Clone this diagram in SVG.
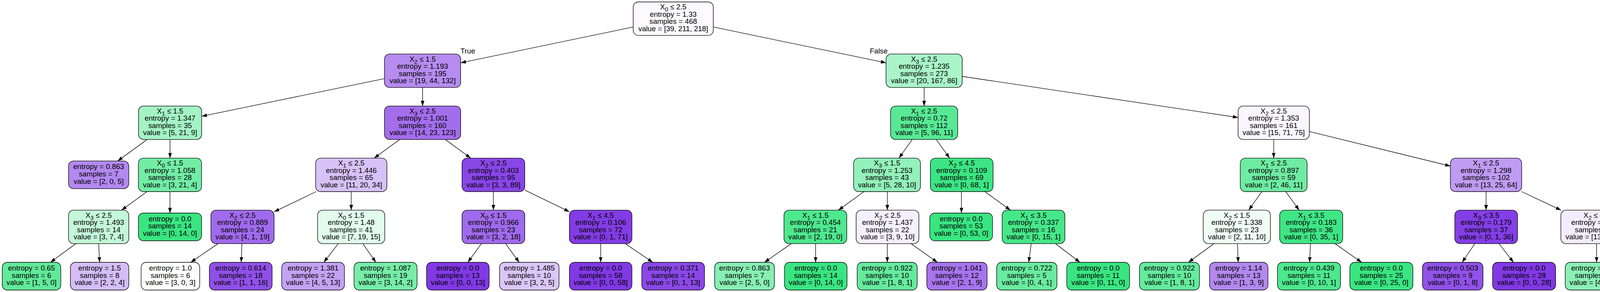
<svg xmlns="http://www.w3.org/2000/svg" width="4369" height="748" viewBox="0 0 4369 748">
<style>
.node rect{stroke:#000;stroke-width:1.33}
text{font-family:"Liberation Sans",Arial,Helvetica,sans-serif;font-size:18.67px;text-anchor:middle;fill:#000}
.s{font-size:15px}
#edges line{stroke:#000;stroke-width:1.33;marker-end:url(#arr)}
</style>
<defs>
<marker id="arr" viewBox="0 0 10 7" refX="10" refY="3.5" markerWidth="13.33" markerHeight="9.33" markerUnits="userSpaceOnUse" orient="auto"><path d="M0,0 L10,3.5 L0,7 z" fill="#000"/></marker>
</defs>
<rect width="4369" height="748" fill="#fff"/>
<g id="edges">
<line x1="1621" y1="69.15" x2="1179.3" y2="160.94"/>
<line x1="1826" y1="69.13" x2="2268.3" y2="160.96"/>
<line x1="984.3" y1="201.31" x2="516.25" y2="297.87"/>
<line x1="1081.8" y1="224.05" x2="1081.8" y2="271.7"/>
<line x1="2365.8" y1="224.05" x2="2365.8" y2="271.7"/>
<line x1="2463.3" y1="195.73" x2="3169.5" y2="300.97"/>
<line x1="376.64" y1="357.4" x2="301.23" y2="412.4"/>
<line x1="435.3" y1="357.4" x2="435.3" y2="405.05"/>
<line x1="1023.16" y1="357.4" x2="957.94" y2="405.05"/>
<line x1="1140.06" y1="357.4" x2="1204.84" y2="405.05"/>
<line x1="2335.29" y1="357.4" x2="2301.36" y2="405.05"/>
<line x1="2396.71" y1="357.4" x2="2431.09" y2="405.05"/>
<line x1="3260.65" y1="357.4" x2="3260.65" y2="405.05"/>
<line x1="3351.8" y1="336.91" x2="3713" y2="425.52"/>
<line x1="376.47" y1="490.75" x2="311.23" y2="538.4"/>
<line x1="435.15" y1="490.75" x2="435.15" y2="545.75"/>
<line x1="809.81" y1="490.75" x2="701.65" y2="542.54"/>
<line x1="899.15" y1="490.75" x2="899.15" y2="538.4"/>
<line x1="1263.1" y1="490.75" x2="1263.1" y2="538.4"/>
<line x1="1343.4" y1="486.89" x2="1457.75" y2="542.41"/>
<line x1="2211.88" y1="490.75" x2="2146.32" y2="538.4"/>
<line x1="2271.6" y1="490.75" x2="2271.6" y2="538.4"/>
<line x1="2461.3" y1="490.75" x2="2461.3" y2="545.75"/>
<line x1="2521.06" y1="490.75" x2="2586.74" y2="538.4"/>
<line x1="3230.35" y1="490.75" x2="3196.65" y2="538.4"/>
<line x1="3291.51" y1="490.75" x2="3325.84" y2="538.4"/>
<line x1="3804.4" y1="490.75" x2="3804.4" y2="538.4"/>
<line x1="3895.22" y1="490.75" x2="3996.38" y2="538.4"/>
<line x1="194.21" y1="624.1" x2="128.99" y2="672"/>
<line x1="252.55" y1="624.1" x2="255" y2="672"/>
<line x1="558.2" y1="624.1" x2="488.22" y2="672"/>
<line x1="619.27" y1="624.1" x2="617.57" y2="672"/>
<line x1="865.91" y1="624.1" x2="828.92" y2="672"/>
<line x1="928.87" y1="624.1" x2="962.26" y2="672"/>
<line x1="1232.21" y1="624.1" x2="1197.69" y2="672"/>
<line x1="1294.29" y1="624.1" x2="1329.16" y2="672"/>
<line x1="1537.75" y1="624.1" x2="1537.75" y2="672"/>
<line x1="1600.73" y1="624.1" x2="1671.13" y2="672"/>
<line x1="2025.8" y1="624.1" x2="1956.99" y2="672"/>
<line x1="2087.9" y1="624.1" x2="2087.9" y2="672"/>
<line x1="2271.6" y1="624.1" x2="2271.4" y2="672"/>
<line x1="2332.33" y1="624.1" x2="2399.77" y2="672"/>
<line x1="2639.98" y1="624.1" x2="2633.47" y2="672"/>
<line x1="2701.99" y1="624.1" x2="2764.8" y2="672"/>
<line x1="3107.78" y1="624.1" x2="3042.32" y2="672"/>
<line x1="3168.01" y1="624.1" x2="3169.87" y2="672"/>
<line x1="3354.77" y1="624.1" x2="3352.6" y2="672"/>
<line x1="3417.66" y1="624.1" x2="3485.8" y2="672"/>
<line x1="3775.55" y1="624.1" x2="3743.07" y2="672"/>
<line x1="3837.57" y1="624.1" x2="3874.43" y2="672"/>
<line x1="4087.3" y1="624.1" x2="4087.3" y2="672"/>
<line x1="4151.97" y1="624.1" x2="4224.21" y2="672"/>
<text x="1197.5" y="136.7">True</text>
<text x="2249.5" y="136.7">False</text>
</g>
<g id="node0" class="node"><rect x="1621" y="5" width="205" height="85.7" rx="13" fill="#fcfafe"/><text x="1723.5" y="24.25">X<tspan class="s" dy="5">0</tspan><tspan dy="-5"> ≤ 2.5</tspan></text><text x="1723.5" y="42.75">entropy = 1.33</text><text x="1723.5" y="61.25">samples = 468</text><text x="1723.5" y="79.75">value = [39, 211, 218]</text></g>
<g id="node1" class="node"><rect x="984.3" y="138.35" width="195" height="85.7" rx="13" fill="#b68cf0"/><text x="1081.8" y="157.6">X<tspan class="s" dy="5">2</tspan><tspan dy="-5"> ≤ 1.5</tspan></text><text x="1081.8" y="176.1">entropy = 1.193</text><text x="1081.8" y="194.6">samples = 195</text><text x="1081.8" y="213.1">value = [19, 44, 132]</text></g>
<g id="node2" class="node"><rect x="2268.3" y="138.35" width="195" height="85.7" rx="13" fill="#a9f4c8"/><text x="2365.8" y="157.6">X<tspan class="s" dy="5">3</tspan><tspan dy="-5"> ≤ 2.5</tspan></text><text x="2365.8" y="176.1">entropy = 1.235</text><text x="2365.8" y="194.6">samples = 273</text><text x="2365.8" y="213.1">value = [20, 167, 86]</text></g>
<g id="node3" class="node"><rect x="354.55" y="271.7" width="161.7" height="85.7" rx="13" fill="#a4f3c5"/><text x="435.4" y="290.95">X<tspan class="s" dy="5">1</tspan><tspan dy="-5"> ≤ 1.5</tspan></text><text x="435.4" y="309.45">entropy = 1.347</text><text x="435.4" y="327.95">samples = 35</text><text x="435.4" y="346.45">value = [5, 21, 9]</text></g>
<g id="node4" class="node"><rect x="984.3" y="271.7" width="195" height="85.7" rx="13" fill="#a36eec"/><text x="1081.8" y="290.95">X<tspan class="s" dy="5">3</tspan><tspan dy="-5"> ≤ 2.5</tspan></text><text x="1081.8" y="309.45">entropy = 1.001</text><text x="1081.8" y="327.95">samples = 160</text><text x="1081.8" y="346.45">value = [14, 23, 123]</text></g>
<g id="node5" class="node"><rect x="2279.95" y="271.7" width="171.7" height="85.7" rx="13" fill="#58e995"/><text x="2365.8" y="290.95">X<tspan class="s" dy="5">1</tspan><tspan dy="-5"> ≤ 2.5</tspan></text><text x="2365.8" y="309.45">entropy = 0.72</text><text x="2365.8" y="327.95">samples = 112</text><text x="2365.8" y="346.45">value = [5, 96, 11]</text></g>
<g id="node6" class="node"><rect x="3169.5" y="271.7" width="182.3" height="85.7" rx="13" fill="#f9f6fe"/><text x="3260.65" y="290.95">X<tspan class="s" dy="5">2</tspan><tspan dy="-5"> ≤ 2.5</tspan></text><text x="3260.65" y="309.45">entropy = 1.353</text><text x="3260.65" y="327.95">samples = 161</text><text x="3260.65" y="346.45">value = [15, 71, 75]</text></g>
<g id="node7" class="node"><rect x="175.4" y="412.4" width="154.3" height="71" rx="13" fill="#b388ef"/><text x="252.55" y="433.4">entropy = 0.863</text><text x="252.55" y="452">samples = 7</text><text x="252.55" y="470.7">value = [2, 0, 5]</text></g>
<g id="node8" class="node"><rect x="354.3" y="405.05" width="161.7" height="85.7" rx="13" fill="#73eda6"/><text x="435.15" y="424.3">X<tspan class="s" dy="5">0</tspan><tspan dy="-5"> ≤ 1.5</tspan></text><text x="435.15" y="442.8">entropy = 1.058</text><text x="435.15" y="461.3">samples = 28</text><text x="435.15" y="479.8">value = [3, 21, 4]</text></g>
<g id="node9" class="node"><rect x="808.1" y="405.05" width="182.4" height="85.7" rx="13" fill="#d8c1f7"/><text x="899.3" y="424.3">X<tspan class="s" dy="5">1</tspan><tspan dy="-5"> ≤ 2.5</tspan></text><text x="899.3" y="442.8">entropy = 1.446</text><text x="899.3" y="461.3">samples = 65</text><text x="899.3" y="479.8">value = [11, 20, 34]</text></g>
<g id="node10" class="node"><rect x="1182.8" y="405.05" width="160.6" height="85.7" rx="13" fill="#8946e7"/><text x="1263.1" y="424.3">X<tspan class="s" dy="5">2</tspan><tspan dy="-5"> ≤ 2.5</tspan></text><text x="1263.1" y="442.8">entropy = 0.403</text><text x="1263.1" y="461.3">samples = 95</text><text x="1263.1" y="479.8">value = [3, 3, 89]</text></g>
<g id="node11" class="node"><rect x="2185.3" y="405.05" width="171.1" height="85.7" rx="13" fill="#93f1ba"/><text x="2270.85" y="424.3">X<tspan class="s" dy="5">3</tspan><tspan dy="-5"> ≤ 1.5</tspan></text><text x="2270.85" y="442.8">entropy = 1.253</text><text x="2270.85" y="461.3">samples = 43</text><text x="2270.85" y="479.8">value = [5, 28, 10]</text></g>
<g id="node12" class="node"><rect x="2381.7" y="405.05" width="160.6" height="85.7" rx="13" fill="#3ce583"/><text x="2462" y="424.3">X<tspan class="s" dy="5">2</tspan><tspan dy="-5"> ≤ 4.5</tspan></text><text x="2462" y="442.8">entropy = 0.109</text><text x="2462" y="461.3">samples = 69</text><text x="2462" y="479.8">value = [0, 68, 1]</text></g>
<g id="node13" class="node"><rect x="3175.1" y="405.05" width="171.1" height="85.7" rx="13" fill="#6feca3"/><text x="3260.65" y="424.3">X<tspan class="s" dy="5">1</tspan><tspan dy="-5"> ≤ 2.5</tspan></text><text x="3260.65" y="442.8">entropy = 0.897</text><text x="3260.65" y="461.3">samples = 59</text><text x="3260.65" y="479.8">value = [2, 46, 11]</text></g>
<g id="node14" class="node"><rect x="3713" y="405.05" width="182.5" height="85.7" rx="13" fill="#bf9bf2"/><text x="3804.25" y="424.3">X<tspan class="s" dy="5">1</tspan><tspan dy="-5"> ≤ 2.5</tspan></text><text x="3804.25" y="442.8">entropy = 1.298</text><text x="3804.25" y="461.3">samples = 102</text><text x="3804.25" y="479.8">value = [13, 25, 64]</text></g>
<g id="node15" class="node"><rect x="175.4" y="538.4" width="154.3" height="85.7" rx="13" fill="#c4f7d9"/><text x="252.55" y="557.65">X<tspan class="s" dy="5">3</tspan><tspan dy="-5"> ≤ 2.5</tspan></text><text x="252.55" y="576.15">entropy = 1.493</text><text x="252.55" y="594.65">samples = 14</text><text x="252.55" y="613.15">value = [3, 7, 4]</text></g>
<g id="node16" class="node"><rect x="354.3" y="545.75" width="161.7" height="71" rx="13" fill="#39e581"/><text x="435.15" y="566.75">entropy = 0.0</text><text x="435.15" y="585.35">samples = 14</text><text x="435.15" y="604.05">value = [0, 14, 0]</text></g>
<g id="node17" class="node"><rect x="539.95" y="538.4" width="161.7" height="85.7" rx="13" fill="#a06aec"/><text x="620.8" y="557.65">X<tspan class="s" dy="5">2</tspan><tspan dy="-5"> ≤ 2.5</tspan></text><text x="620.8" y="576.15">entropy = 0.889</text><text x="620.8" y="594.65">samples = 24</text><text x="620.8" y="613.15">value = [4, 1, 19]</text></g>
<g id="node18" class="node"><rect x="813" y="538.4" width="172" height="85.7" rx="13" fill="#e1fbec"/><text x="899" y="557.65">X<tspan class="s" dy="5">0</tspan><tspan dy="-5"> ≤ 1.5</tspan></text><text x="899" y="576.15">entropy = 1.48</text><text x="899" y="594.65">samples = 41</text><text x="899" y="613.15">value = [7, 19, 15]</text></g>
<g id="node19" class="node"><rect x="1182.8" y="538.4" width="160.6" height="85.7" rx="13" fill="#a06aec"/><text x="1263.1" y="557.65">X<tspan class="s" dy="5">0</tspan><tspan dy="-5"> ≤ 1.5</tspan></text><text x="1263.1" y="576.15">entropy = 0.966</text><text x="1263.1" y="594.65">samples = 23</text><text x="1263.1" y="613.15">value = [3, 2, 18]</text></g>
<g id="node20" class="node"><rect x="1457.75" y="538.4" width="160" height="85.7" rx="13" fill="#833ce5"/><text x="1537.75" y="557.65">X<tspan class="s" dy="5">1</tspan><tspan dy="-5"> ≤ 4.5</tspan></text><text x="1537.75" y="576.15">entropy = 0.106</text><text x="1537.75" y="594.65">samples = 72</text><text x="1537.75" y="613.15">value = [0, 1, 71]</text></g>
<g id="node21" class="node"><rect x="2007" y="538.4" width="160.7" height="85.7" rx="13" fill="#4ee88e"/><text x="2087.35" y="557.65">X<tspan class="s" dy="5">1</tspan><tspan dy="-5"> ≤ 1.5</tspan></text><text x="2087.35" y="576.15">entropy = 0.454</text><text x="2087.35" y="594.65">samples = 21</text><text x="2087.35" y="613.15">value = [2, 19, 0]</text></g>
<g id="node22" class="node"><rect x="2191.65" y="538.4" width="160.7" height="85.7" rx="13" fill="#f5f0fd"/><text x="2272" y="557.65">X<tspan class="s" dy="5">2</tspan><tspan dy="-5"> ≤ 2.5</tspan></text><text x="2272" y="576.15">entropy = 1.437</text><text x="2272" y="594.65">samples = 22</text><text x="2272" y="613.15">value = [3, 9, 10]</text></g>
<g id="node23" class="node"><rect x="2380.3" y="545.75" width="160.6" height="71" rx="13" fill="#39e581"/><text x="2460.6" y="566.75">entropy = 0.0</text><text x="2460.6" y="585.35">samples = 53</text><text x="2460.6" y="604.05">value = [0, 53, 0]</text></g>
<g id="node24" class="node"><rect x="2565.5" y="538.4" width="160.6" height="85.7" rx="13" fill="#46e789"/><text x="2645.8" y="557.65">X<tspan class="s" dy="5">1</tspan><tspan dy="-5"> ≤ 3.5</tspan></text><text x="2645.8" y="576.15">entropy = 0.337</text><text x="2645.8" y="594.65">samples = 16</text><text x="2645.8" y="613.15">value = [0, 15, 1]</text></g>
<g id="node25" class="node"><rect x="3080.35" y="538.4" width="172" height="85.7" rx="13" fill="#effdf5"/><text x="3166.35" y="557.65">X<tspan class="s" dy="5">2</tspan><tspan dy="-5"> ≤ 1.5</tspan></text><text x="3166.35" y="576.15">entropy = 1.338</text><text x="3166.35" y="594.65">samples = 23</text><text x="3166.35" y="613.15">value = [2, 11, 10]</text></g>
<g id="node26" class="node"><rect x="3276" y="538.4" width="161.4" height="85.7" rx="13" fill="#3fe685"/><text x="3356.7" y="557.65">X<tspan class="s" dy="5">1</tspan><tspan dy="-5"> ≤ 3.5</tspan></text><text x="3356.7" y="576.15">entropy = 0.183</text><text x="3356.7" y="594.65">samples = 36</text><text x="3356.7" y="613.15">value = [0, 35, 1]</text></g>
<g id="node27" class="node"><rect x="3724.3" y="538.4" width="160.6" height="85.7" rx="13" fill="#843ee6"/><text x="3804.6" y="557.65">X<tspan class="s" dy="5">3</tspan><tspan dy="-5"> ≤ 3.5</tspan></text><text x="3804.6" y="576.15">entropy = 0.179</text><text x="3804.6" y="594.65">samples = 37</text><text x="3804.6" y="613.15">value = [0, 1, 36]</text></g>
<g id="node28" class="node"><rect x="3995.85" y="538.4" width="183" height="85.7" rx="13" fill="#f3ecfc"/><text x="4087.35" y="557.65">X<tspan class="s" dy="5">2</tspan><tspan dy="-5"> ≤ 3.5</tspan></text><text x="4087.35" y="576.15">entropy = 1.519</text><text x="4087.35" y="594.65">samples = 65</text><text x="4087.35" y="613.15">value = [13, 24, 28]</text></g>
<g id="node29" class="node"><rect x="5.65" y="672" width="150" height="71" rx="13" fill="#61ea9a"/><text x="80.65" y="693">entropy = 0.65</text><text x="80.65" y="711.6">samples = 6</text><text x="80.65" y="730.3">value = [1, 5, 0]</text></g>
<g id="node30" class="node"><rect x="180.3" y="672" width="149.4" height="71" rx="13" fill="#d5bdf6"/><text x="255" y="693">entropy = 1.5</text><text x="255" y="711.6">samples = 8</text><text x="255" y="730.3">value = [2, 2, 4]</text></g>
<g id="node31" class="node"><rect x="361.35" y="672" width="150" height="71" rx="13" fill="#ffffff"/><text x="436.35" y="693">entropy = 1.0</text><text x="436.35" y="711.6">samples = 6</text><text x="436.35" y="730.3">value = [3, 0, 3]</text></g>
<g id="node32" class="node"><rect x="536" y="672" width="160.6" height="71" rx="13" fill="#9050e8"/><text x="616.3" y="693">entropy = 0.614</text><text x="616.3" y="711.6">samples = 18</text><text x="616.3" y="730.3">value = [1, 1, 16]</text></g>
<g id="node33" class="node"><rect x="721.2" y="672" width="160.6" height="71" rx="13" fill="#c4a2f3"/><text x="801.5" y="693">entropy = 1.381</text><text x="801.5" y="711.6">samples = 22</text><text x="801.5" y="730.3">value = [4, 5, 13]</text></g>
<g id="node34" class="node"><rect x="906.35" y="672" width="161.3" height="71" rx="13" fill="#77eda8"/><text x="987" y="693">entropy = 1.087</text><text x="987" y="711.6">samples = 19</text><text x="987" y="730.3">value = [3, 14, 2]</text></g>
<g id="node35" class="node"><rect x="1092" y="672" width="160.2" height="71" rx="13" fill="#8139e5"/><text x="1172.1" y="693">entropy = 0.0</text><text x="1172.1" y="711.6">samples = 13</text><text x="1172.1" y="730.3">value = [0, 0, 13]</text></g>
<g id="node36" class="node"><rect x="1278.9" y="672" width="152.2" height="71" rx="13" fill="#dbc6f8"/><text x="1355" y="693">entropy = 1.485</text><text x="1355" y="711.6">samples = 10</text><text x="1355" y="730.3">value = [3, 2, 5]</text></g>
<g id="node37" class="node"><rect x="1457.75" y="672" width="160" height="71" rx="13" fill="#8139e5"/><text x="1537.75" y="693">entropy = 0.0</text><text x="1537.75" y="711.6">samples = 58</text><text x="1537.75" y="730.3">value = [0, 0, 58]</text></g>
<g id="node38" class="node"><rect x="1643" y="672" width="160.6" height="71" rx="13" fill="#8b48e7"/><text x="1723.3" y="693">entropy = 0.371</text><text x="1723.3" y="711.6">samples = 14</text><text x="1723.3" y="730.3">value = [0, 1, 13]</text></g>
<g id="node39" class="node"><rect x="1829.5" y="672" width="153" height="71" rx="13" fill="#88efb3"/><text x="1906" y="693">entropy = 0.863</text><text x="1906" y="711.6">samples = 7</text><text x="1906" y="730.3">value = [2, 5, 0]</text></g>
<g id="node40" class="node"><rect x="2008.45" y="672" width="160" height="71" rx="13" fill="#39e581"/><text x="2088.45" y="693">entropy = 0.0</text><text x="2088.45" y="711.6">samples = 14</text><text x="2088.45" y="730.3">value = [0, 14, 0]</text></g>
<g id="node41" class="node"><rect x="2194.4" y="672" width="153.6" height="71" rx="13" fill="#65eb9d"/><text x="2271.2" y="693">entropy = 0.922</text><text x="2271.2" y="711.6">samples = 10</text><text x="2271.2" y="730.3">value = [1, 8, 1]</text></g>
<g id="node42" class="node"><rect x="2372.6" y="672" width="154.3" height="71" rx="13" fill="#a774ed"/><text x="2449.75" y="693">entropy = 1.041</text><text x="2449.75" y="711.6">samples = 12</text><text x="2449.75" y="730.3">value = [2, 1, 9]</text></g>
<g id="node43" class="node"><rect x="2551.5" y="672" width="154.3" height="71" rx="13" fill="#6aeca0"/><text x="2628.65" y="693">entropy = 0.722</text><text x="2628.65" y="711.6">samples = 5</text><text x="2628.65" y="730.3">value = [0, 4, 1]</text></g>
<g id="node44" class="node"><rect x="2731" y="672" width="160.7" height="71" rx="13" fill="#39e581"/><text x="2811.35" y="693">entropy = 0.0</text><text x="2811.35" y="711.6">samples = 11</text><text x="2811.35" y="730.3">value = [0, 11, 0]</text></g>
<g id="node45" class="node"><rect x="2917" y="672" width="153.6" height="71" rx="13" fill="#65eb9d"/><text x="2993.8" y="693">entropy = 0.922</text><text x="2993.8" y="711.6">samples = 10</text><text x="2993.8" y="730.3">value = [1, 8, 1]</text></g>
<g id="node46" class="node"><rect x="3096.5" y="672" width="149.5" height="71" rx="13" fill="#b388ef"/><text x="3171.25" y="693">entropy = 1.14</text><text x="3171.25" y="711.6">samples = 13</text><text x="3171.25" y="730.3">value = [1, 3, 9]</text></g>
<g id="node47" class="node"><rect x="3270.35" y="672" width="161.3" height="71" rx="13" fill="#4de88e"/><text x="3351" y="693">entropy = 0.439</text><text x="3351" y="711.6">samples = 11</text><text x="3351" y="730.3">value = [0, 10, 1]</text></g>
<g id="node48" class="node"><rect x="3455.6" y="672" width="161.4" height="71" rx="13" fill="#39e581"/><text x="3536.3" y="693">entropy = 0.0</text><text x="3536.3" y="711.6">samples = 25</text><text x="3536.3" y="730.3">value = [0, 25, 0]</text></g>
<g id="node49" class="node"><rect x="3641.5" y="672" width="155" height="71" rx="13" fill="#9152e8"/><text x="3719" y="693">entropy = 0.503</text><text x="3719" y="711.6">samples = 9</text><text x="3719" y="730.3">value = [0, 1, 8]</text></g>
<g id="node50" class="node"><rect x="3821.1" y="672" width="161.3" height="71" rx="13" fill="#8139e5"/><text x="3901.75" y="693">entropy = 0.0</text><text x="3901.75" y="711.6">samples = 28</text><text x="3901.75" y="730.3">value = [0, 0, 28]</text></g>
<g id="node51" class="node"><rect x="4007" y="672" width="160.6" height="71" rx="13" fill="#8bf0b5"/><text x="4087.3" y="693">entropy = 1.247</text><text x="4087.3" y="711.6">samples = 21</text><text x="4087.3" y="730.3">value = [4, 14, 3]</text></g>
<g id="node52" class="node"><rect x="4192.2" y="672" width="171.1" height="71" rx="13" fill="#c7a8f4"/><text x="4277.75" y="693">entropy = 1.417</text><text x="4277.75" y="711.6">samples = 44</text><text x="4277.75" y="730.3">value = [9, 10, 25]</text></g>
</svg>
